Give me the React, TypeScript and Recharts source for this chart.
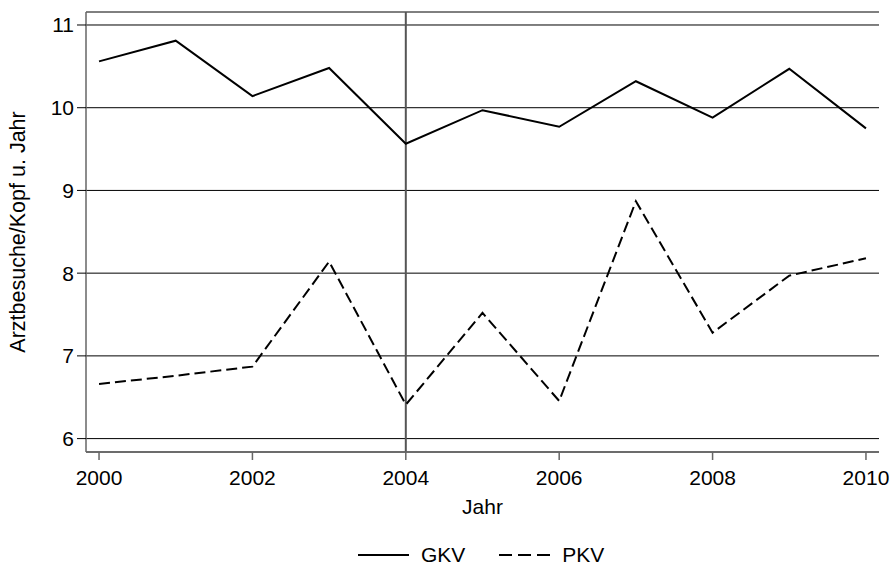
import React from 'react';
import { LineChart, Line, XAxis, YAxis, CartesianGrid, ReferenceLine, Legend } from 'recharts';

const years = [2000, 2001, 2002, 2003, 2004, 2005, 2006, 2007, 2008, 2009, 2010];
const gkv = [10.56, 10.81, 10.14, 10.48, 9.565, 9.97, 9.77, 10.32, 9.88, 10.47, 9.75];
const pkv = [6.66, 6.76, 6.87, 8.14, 6.41, 7.52, 6.455, 8.87, 7.28, 7.97, 8.18];
const xTicks = [2000, 2002, 2004, 2006, 2008, 2010];
const yTicks = [6, 7, 8, 9, 10, 11];

const data = years.map((y, i) => ({ year: y, GKV: gkv[i], PKV: pkv[i] }));

const FONT = '"Liberation Sans", Arial, Helvetica, sans-serif';

const LegendContent = (props: any) => {
  const payload = props.payload || [];
  return (
    <div style={{ display: 'flex', alignItems: 'center', height: 24, fontFamily: FONT, fontSize: 21, color: '#000' }}>
      {payload.map((p: any, i: number) => (
        <div key={i} style={{ display: 'flex', alignItems: 'center', marginRight: 34 }}>
          <svg width={51} height={10} style={{ display: 'block' }}>
            <line x1={0} y1={5} x2={51} y2={5} stroke="#000" strokeWidth={2}
              strokeDasharray={p.value === 'PKV' ? '13 6' : undefined} />
          </svg>
          <span style={{ marginLeft: 12, lineHeight: '24px' }}>{p.value}</span>
        </div>
      ))}
    </div>
  );
};

export default function App() {
  return (
    <div style={{ position: 'absolute', left: 0, top: 0, background: '#fff' }}>
      <LineChart
        width={892}
        height={567}
        data={data}
        margin={{ top: 12, right: 13, left: 6, bottom: 55 }}
        style={{ fontFamily: FONT }}
      >
        <CartesianGrid horizontal vertical={false} stroke="#000" strokeWidth={1} />
        <XAxis
          dataKey="year"
          type="number"
          domain={[1999.83, 2010.17]}
          allowDataOverflow
          ticks={xTicks}
          height={60}
          tickSize={8}
          tickMargin={10}
          axisLine={{ stroke: '#666', strokeWidth: 1.5 }}
          tickLine={{ stroke: '#666', strokeWidth: 1.5 }}
          tick={{ fontSize: 21, fill: '#000', fontFamily: FONT }}
          label={{
            content: (lp: any) => {
              const vb = lp.viewBox || {};
              return (
                <text x={vb.x + vb.width / 2} y={vb.y + 61.5} textAnchor="middle" fontSize={21} fill="#000" fontFamily={FONT}>
                  Jahr
                </text>
              );
            },
          }}
        />
        <YAxis
          type="number"
          domain={[5.838, 11.157]}
          allowDataOverflow
          ticks={yTicks}
          width={80}
          tickSize={9}
          tickMargin={3}
          axisLine={{ stroke: '#666', strokeWidth: 1.5 }}
          tickLine={{ stroke: '#000', strokeWidth: 1 }}
          tick={{ fontSize: 21, fill: '#000', fontFamily: FONT }}
          label={{
            content: (lp: any) => {
              const vb = lp.viewBox || {};
              const cx = vb.x + 19;
              const cy = vb.y + vb.height / 2;
              return (
                <text x={cx} y={cy} textAnchor="middle" transform={`rotate(-90, ${cx}, ${cy})`} fontSize={21.5} fill="#000" fontFamily={FONT}>
                  Arztbesuche/Kopf u. Jahr
                </text>
              );
            },
          }}
        />
        <ReferenceLine x={2004} stroke="#555" strokeWidth={2} />
        <Line dataKey="GKV" stroke="#000" strokeWidth={2} dot={false} isAnimationActive={false} />
        <Line dataKey="PKV" stroke="#000" strokeWidth={2} strokeDasharray="11 5" dot={false} isAnimationActive={false} />
        <Legend
          layout="horizontal"
          verticalAlign="middle"
          align="center"
          content={<LegendContent />}
          wrapperStyle={{ top: 543, left: 358, width: 'auto' }}
        />
      </LineChart>
    </div>
  );
}
